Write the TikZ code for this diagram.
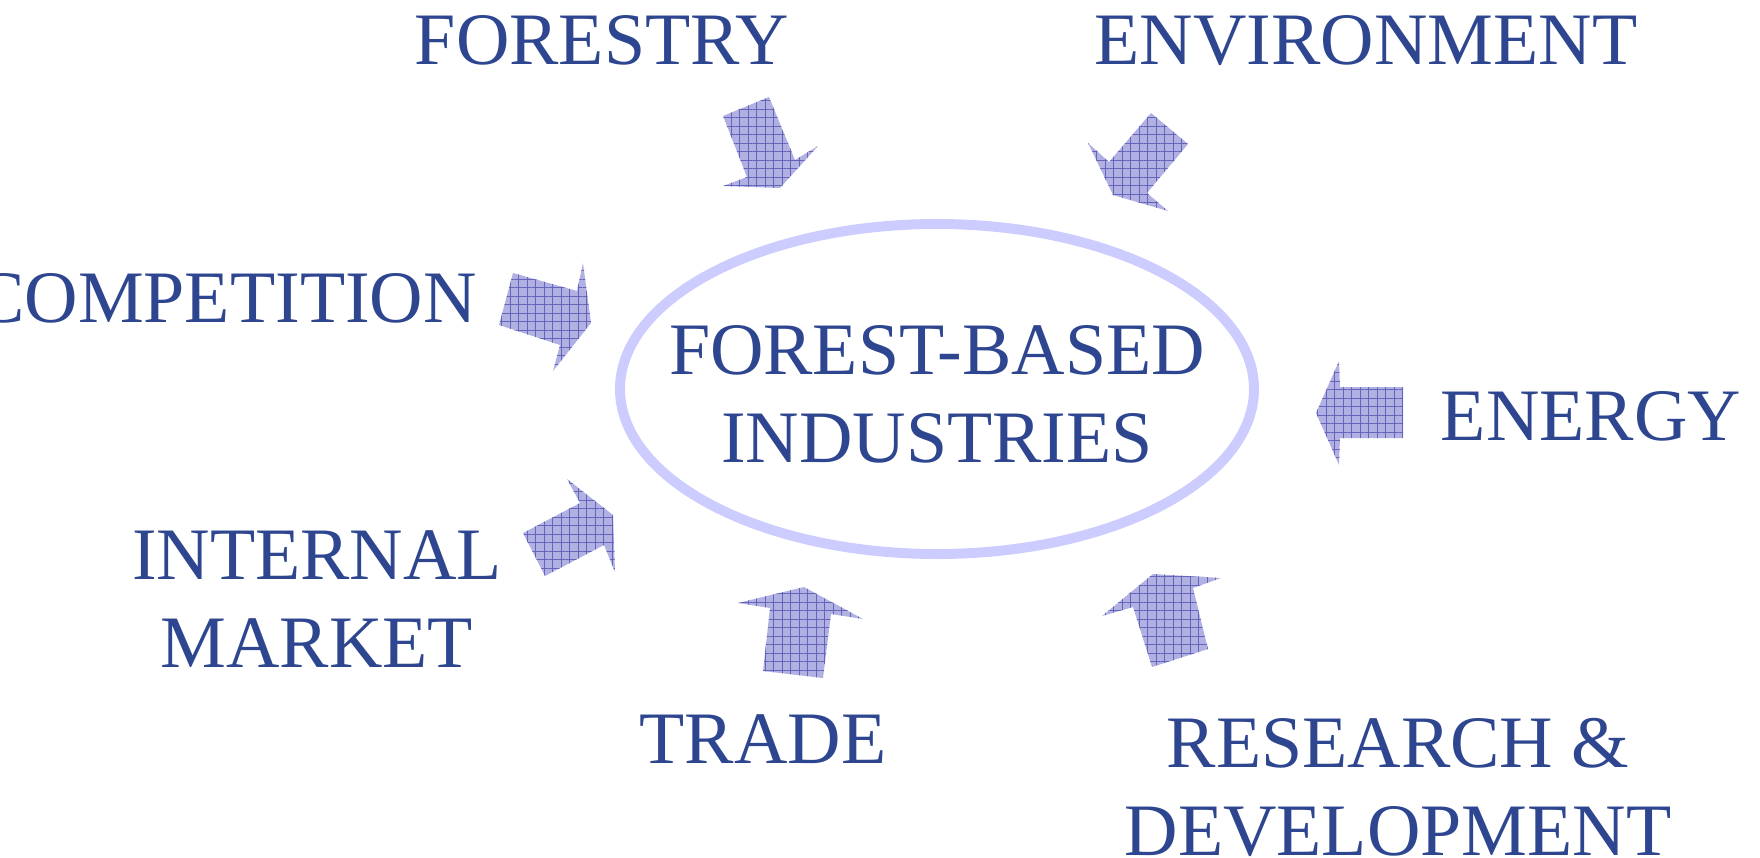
\documentclass[tikz,border=0pt]{standalone}
\usepackage{fontspec}
\setmainfont{Liberation Serif}
\usetikzlibrary{shapes,patterns.meta,positioning}

\definecolor{labelblue}{RGB}{46,70,144}
\definecolor{ringblue}{RGB}{204,204,255}
\definecolor{pushfill}{RGB}{176,176,226}
\definecolor{pushline}{RGB}{100,100,186}

\begin{document}
\begin{tikzpicture}[x=1pt,y=-1pt,
  factor/.style={font=\fontsize{74}{88}\selectfont,text=labelblue,align=center,anchor=base,inner sep=0pt},
  ring/.style={ellipse,draw=ringblue,line width=10pt,minimum width=634pt,minimum height=330pt,inner sep=0pt},
  push/.style={fill=pushfill,postaction={pattern={Hatch[angle=0,distance=8.5pt,line width=0.9pt]},pattern color=pushline}}]
  \useasboundingbox (0,0) rectangle (1760,857);

  % Forest-based industries
  \node[ring]   (FBI)      at (937,389) {};
  \node[factor] (FBI text) at (937,462) {FOREST-BASED\\INDUSTRIES};

  % Factors
  \node[factor]                 (forestry)    at (602,64)   {FORESTRY};
  \node[factor]                 (environment) at (1366,64)  {ENVIRONMENT};
  \node[factor,anchor=base east](competition) at (477,322)  {COMPETITION};
  \node[factor]                 (energy)      at (1591,440) {ENERGY};
  \node[factor]                 (internal)    at (317,667)  {INTERNAL\\MARKET};
  \node[factor]                 (trade)       at (763,763)  {TRADE};
  \node[factor]                 (research)    at (1398,855) {RESEARCH \&\\DEVELOPMENT};

  % Arrows into the ring
  \fill[push] (723,116) -- (769,97) -- (795,160) -- (818,146) -- (780,188) -- (723,186) -- (747,177) -- cycle;
  \fill[push] (1151,113) -- (1188,144) -- (1147,193) -- (1168,211) -- (1113,195) -- (1088,143) -- (1109,162) -- cycle;
  \fill[push] (513,273) -- (577,291) -- (583,263) -- (591,323) -- (553,371) -- (560,345) -- (499,325) -- cycle;
  \fill[push] (1339,361) -- (1340,387) -- (1403,387) -- (1403,438) -- (1340,438) -- (1339,465) -- (1316,413) -- cycle;
  \fill[push] (523,533) -- (580,503) -- (567,479) -- (613,515) -- (615,572) -- (604,545) -- (545,576) -- cycle;
  \fill[push] (738,603) -- (804,587) -- (863,619) -- (831,614) -- (823,678) -- (763,671) -- (770,608) -- cycle;
  \fill[push] (1102,616) -- (1153,574) -- (1221,578) -- (1193,588) -- (1208,649) -- (1152,667) -- (1133,607) -- cycle;
\end{tikzpicture}
\end{document}
